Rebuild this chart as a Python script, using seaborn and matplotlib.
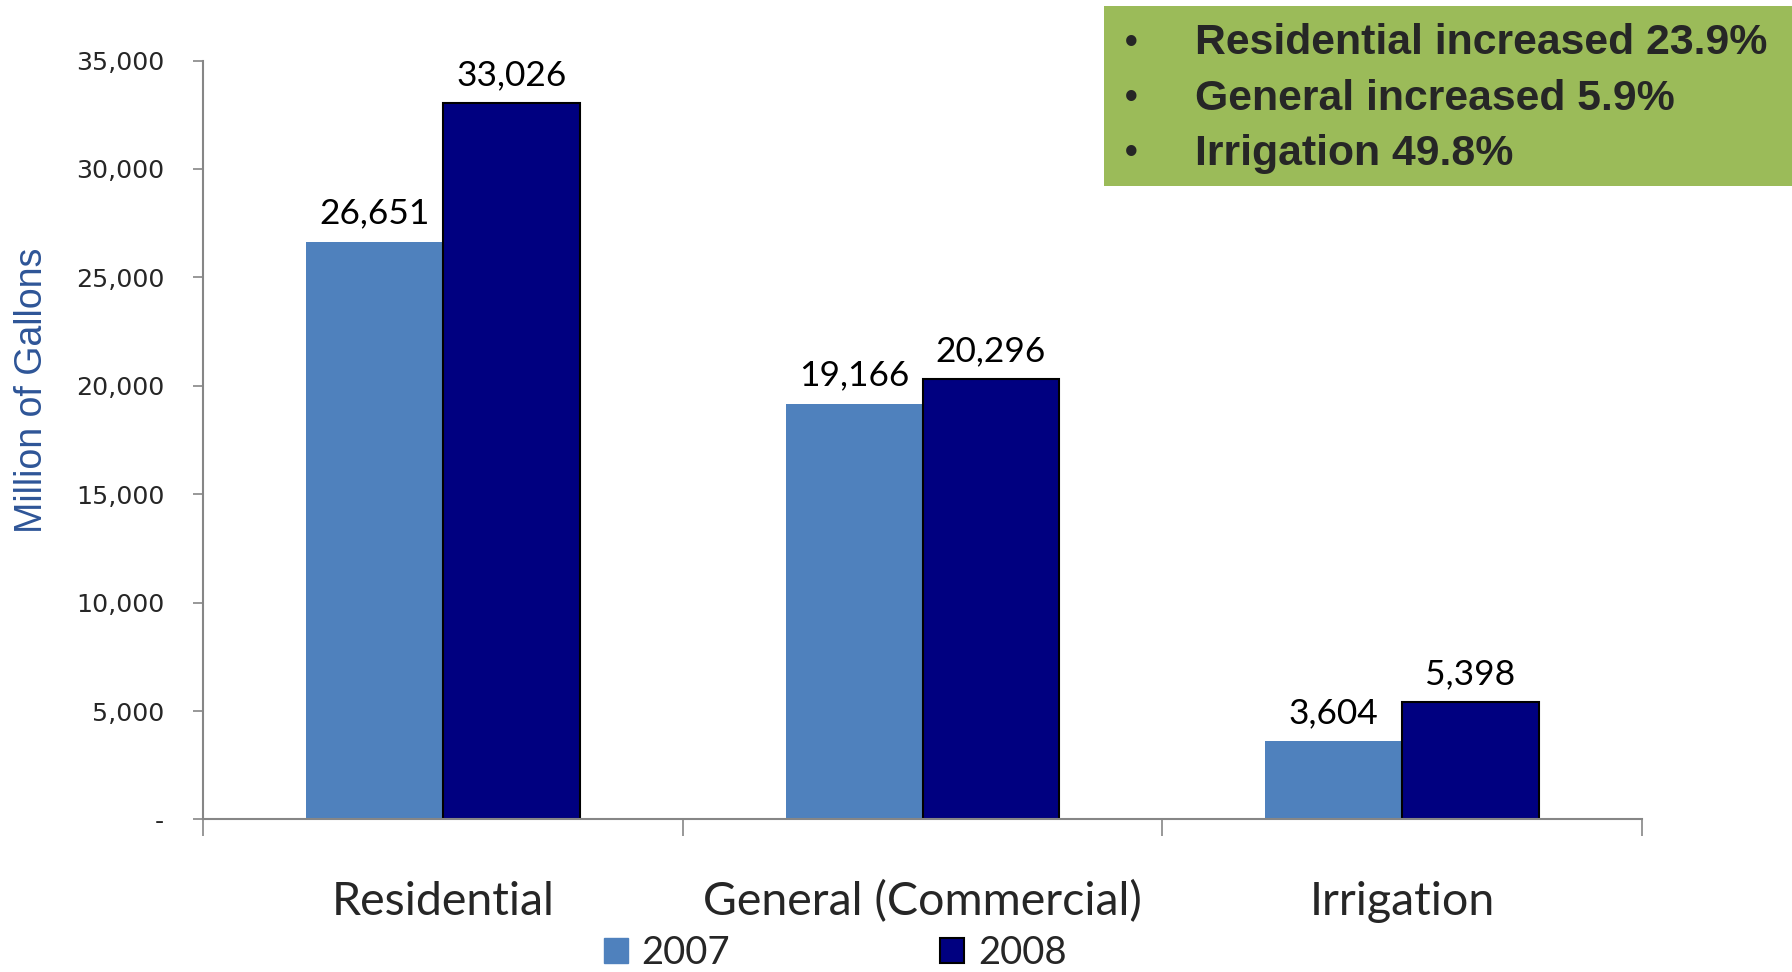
import pandas as pd
import matplotlib.pyplot as plt
import matplotlib.patches as mpatches
from matplotlib.ticker import FuncFormatter
import seaborn as sns

# Data
categories = ['Residential', 'General (Commercial)', 'Irrigation']
years = ['2007', '2008']
vals_2007 = [26651, 19166, 3604]
vals_2008 = [33026, 20296, 5398]
notes = ['Residential increased 23.9%', 'General increased 5.9%', 'Irrigation 49.8%']

df = pd.DataFrame({
    'category': categories * 2,
    'year': [years[0]] * 3 + [years[1]] * 3,
    'value': vals_2007 + vals_2008,
})

sns.set_style('white')
plt.rcParams['font.family'] = ['DejaVu Sans']

colors = {'2007': '#4F81BD', '2008': '#000080'}
axis_gray = '#868686'

fig = plt.figure(figsize=(17.92, 9.72), dpi=100)
ax = fig.add_axes([0.1133, 0.1569, 0.8030, 0.7808])

sns.barplot(data=df, x='category', y='value', hue='year', palette=colors,
            width=0.57, saturation=1, ax=ax, legend=False, errorbar=None)

# 2008 bars get a black outline
for p in ax.containers[1]:
    p.set_edgecolor('black')
    p.set_linewidth(1.5)
for p in ax.containers[0]:
    p.set_linewidth(0)

for c in ax.containers:
    ax.bar_label(c, labels=[f'{int(v.get_height()):,}' for v in c], padding=9,
                 fontsize=25.5, family='Lato', color='black')

ax.set_ylim(0, 35000)
ax.set_xlim(-0.5, 2.5)
ax.set_yticks(range(0, 35001, 5000))
ax.yaxis.set_major_formatter(FuncFormatter(lambda v, p: '-' if v == 0 else f'{int(v):,}'))
ax.tick_params(axis='y', labelsize=18.3, length=7, width=1.2, color=axis_gray,
               direction='out', left=True, pad=21)

ax.set_xticks([0, 1, 2])
ax.set_xticklabels(categories, fontsize=33.5, family='Lato')
ax.tick_params(axis='x', length=0, pad=44)
ax.set_xticks([-0.5, 0.5, 1.5, 2.5], minor=True)
ax.tick_params(axis='x', which='minor', length=12, width=1.2, color=axis_gray,
               direction='out', bottom=True)
ax.set_xlabel('')

ax.set_ylabel('Million of Gallons', fontsize=27, color='#2E5597',
              family=['Liberation Sans Narrow', 'Liberation Sans'])
ax.yaxis.set_label_coords(-0.1065, 0.565, transform=ax.transAxes)

for s in ['top', 'right']:
    ax.spines[s].set_visible(False)
for s in ['left', 'bottom']:
    ax.spines[s].set_color(axis_gray)
    ax.spines[s].set_linewidth(1.5)

# Legend at the bottom
handles = [mpatches.Patch(facecolor=colors['2007'], edgecolor=colors['2007'], label='2007'),
           mpatches.Patch(facecolor=colors['2008'], edgecolor='black', linewidth=1.5, label='2008')]
fig.legend(handles=handles, loc='center', bbox_to_anchor=(0.466, 0.02), ncol=2,
           frameon=False, prop={'family': 'Lato', 'size': 27.5},
           handlelength=0.63, handleheight=0.63, handletextpad=0.36,
           columnspacing=5.5)

# Green summary box in the top right
fig.patches.append(mpatches.Rectangle((1104 / 1792, 1 - 186 / 972), 688 / 1792, 180 / 972,
                                      transform=fig.transFigure, facecolor='#9BBB59',
                                      edgecolor='none', zorder=0))
for i, t in enumerate(notes):
    y = 1 - (43 + i * 55.5) / 972
    fig.text(1125 / 1792, y, '•', fontsize=26, fontweight='bold', va='center',
             family='Liberation Sans')
    fig.text(1195 / 1792, y, t, fontsize=30.8, fontweight='bold', va='center',
             family='Liberation Sans')

fig.savefig('out.png', dpi=100)
